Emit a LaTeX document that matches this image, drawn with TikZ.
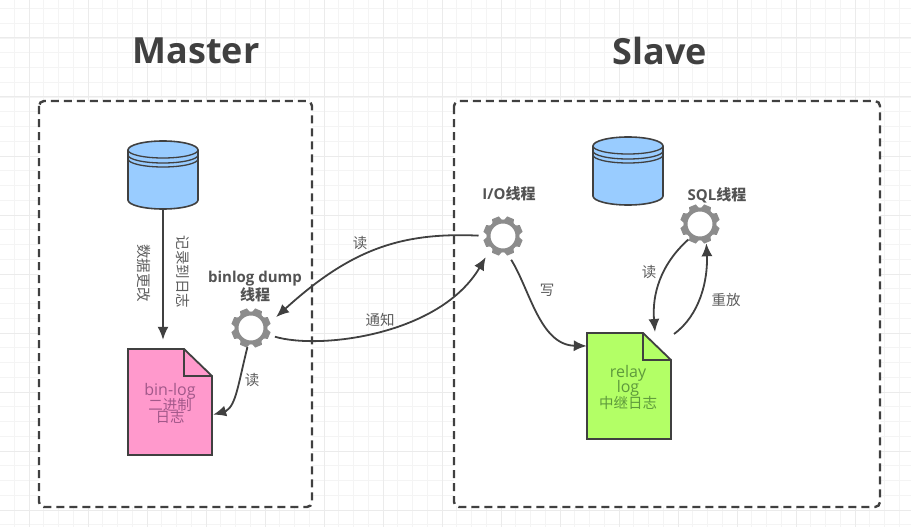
\documentclass[tikz,border=0pt]{standalone}
\usepackage{fontspec}
\setmainfont{Open Sans}
\newfontfamily\cjk{Noto Sans CJK SC}
\usetikzlibrary{arrows.meta}

\definecolor{gridminor}{HTML}{F4F4F4}
\definecolor{gridmajor}{HTML}{EBEBEB}
\definecolor{inkdark}{HTML}{404040}
\definecolor{gearcolor}{HTML}{8C8C8C}
\definecolor{dbblue}{HTML}{99CCFF}
\definecolor{logpink}{HTML}{FF99CC}
\definecolor{logpinktext}{HTML}{A2588A}
\definecolor{loggreen}{HTML}{B3FF66}
\definecolor{loggreentext}{HTML}{5E9A3C}

\tikzset{
    titlenode/.style={font=\fontsize{36}{36}\selectfont\bfseries, text=inkdark},
    groupbox/.style={draw=inkdark, fill=white, line width=2.4pt, rounded corners=5pt, dash pattern=on 8pt off 5pt},
    gearnode/.style={circle, draw=gearcolor, fill=white, line width=4pt, minimum size=29pt, inner sep=0pt},
    threadnode/.style={font=\fontsize{15}{17}\selectfont\bfseries, text=inkdark!90, align=center},
    edgelabel/.style={font=\fontsize{14.5}{15}\selectfont\cjk, text=inkdark!85},
    flow/.style={draw=inkdark, line width=1.8pt, ->},
    dbshape/.style={draw=inkdark, fill=dbblue, line width=1.6pt},
    docshape/.style={draw=inkdark, line width=1.8pt, line join=miter},
    doctext/.style={font=\fontsize{16}{14.5}\selectfont, align=center, inner sep=0pt}
}

% smaller Chinese lines on the logs
\newcommand{\doccjk}{\fontsize{14.5}{14.5}\selectfont\cjk}

% gear: ring as a named node, eight teeth round it
\newcommand{\gearicon}[2]{
    \foreach \a in {0,45,...,315}
        \fill[gearcolor, shift={(#2)}, rotate=\a+22.5] (15,-5.2) -- (19.7,-3.6) -- (19.7,3.6) -- (15,5.2) -- cycle;
    \node[gearnode] (#1) at (#2) {};
}

% cylinder with three rings under the lid
\newcommand{\dbicon}[2]{
    \begin{scope}[shift={(#2)}]
        \draw[dbshape] (-35,-25) -- (-35,25) arc[start angle=180, end angle=0, x radius=35, y radius=9] -- (35,-25) arc[start angle=0, end angle=-180, x radius=35, y radius=9] -- cycle;
        \foreach \d in {0,5,9}
            \draw[inkdark, line width=1.3pt] (-35,-25+\d) arc[start angle=180, end angle=0, x radius=35, y radius=8];
        \node[minimum width=70pt, minimum height=68pt, inner sep=0pt] (#1) at (0,0) {};
    \end{scope}
}

% page with a folded corner, 84 by 106
\newcommand{\docicon}[3]{
    \begin{scope}[shift={(#2)}]
        \draw[docshape, fill=#3] (-42,-53) -- (14,-53) -- (42,-26) -- (42,53) -- (-42,53) -- cycle;
        \draw[docshape] (14,-53) -- (14,-26) -- (42,-26);
        \node[minimum width=84pt, minimum height=106pt, inner sep=0pt] (#1) at (0,0) {};
    \end{scope}
}

\begin{document}
\begin{tikzpicture}[x=1pt, y=-1pt, >={Latex[length=13pt,width=11pt]}]
    \useasboundingbox (0,0) rectangle (911,527);

    % squared paper
    \begin{scope}
        \clip (0,0) rectangle (911,527);
        \foreach \i in {-2,...,61} \draw[gridminor, line width=0.8pt] ({29+14.75*\i},0) -- ({29+14.75*\i},527);
        \foreach \i in {-3,...,33} \draw[gridminor, line width=0.8pt] (0,{38+14.75*\i}) -- (911,{38+14.75*\i});
        \foreach \i in {0,...,15} \draw[gridmajor, line width=1pt] ({29+59*\i},0) -- ({29+59*\i},527);
        \foreach \i in {0,...,8} \draw[gridmajor, line width=1pt] (0,{38+59*\i}) -- (911,{38+59*\i});
    \end{scope}

    % the two groups
    \draw[groupbox] (39,101) rectangle (312,507);
    \draw[groupbox] (454,101) rectangle (880,507);
    \node[titlenode] (mastertitle) at (196,51) {Master};
    \node[titlenode] (slavetitle) at (660,51) {Slave};

    % icons
    \dbicon{masterdb}{163,175}
    \dbicon{slavedb}{628,171}
    \docicon{binlog}{170,402}{logpink}
    \docicon{relaylog}{629,386}{loggreen}
    \gearicon{dump}{251,328}
    \gearicon{io}{503,236}
    \gearicon{sql}{700,224}

    % thread names
    \node[threadnode] (dumpname) at (255,287) {binlog dump\\[1pt]{\cjk 线程}};
    \node[threadnode] (ioname) at (509,194) {I/O{\cjk 线程}};
    \node[threadnode] (sqlname) at (717,195) {SQL{\cjk 线程}};

    % text on the logs
    \node[doctext, text=logpinktext] (binlogtext) at (170,403.5) {bin-log\\[-2pt]{\doccjk 二进制}\\[-2pt]{\doccjk 日志}};
    \node[doctext, text=loggreentext] (relaytext) at (628,387.5) {relay\\[-2pt]log\\[-2pt]{\doccjk 中继日志}};

    % connectors
    \draw[flow, shorten >=9pt] (masterdb.south) -- (binlog.north -| masterdb.south);
    \draw[flow, shorten <=3pt, shorten >=1pt] (dump.-100) .. controls (238,385) and (236,405) .. (226,411) -- (binlog.east |- 0,415);
    \draw[flow, shorten <=8pt, shorten >=12pt] (io.west) .. controls (400,232) and (350,250) .. (dump.10);
    \draw[flow, shorten <=9pt, shorten >=11pt] (dump.-22) .. controls (320,350) and (440,335) .. (io.225);
    \draw[flow, shorten <=9pt] (io.-78) .. controls (530,290) and (540,345) .. (relaylog.west |- 0,346);
    \draw[flow, shorten <=3pt] (sql.235) .. controls (660,265) and (652,295) .. (655,332);
    \draw[flow, shorten >=4pt] (674,334) .. controls (700,315) and (708,280) .. (sql.-68);

    % edge labels
    \node[edgelabel] (readone) at (360,243) {读};
    \node[edgelabel] (notify) at (380,320) {通知};
    \node[edgelabel] (readtwo) at (252,380) {读};
    \node[edgelabel] (writeone) at (547,290) {写};
    \node[edgelabel] (readthree) at (649,272) {读};
    \node[edgelabel] (replay) at (726,300) {重放};
    \node[edgelabel, rotate=-90] (changelabel) at (144,273) {数据更改};
    \node[edgelabel, rotate=-90] (recordlabel) at (183,272) {记录到日志};
\end{tikzpicture}
\end{document}
